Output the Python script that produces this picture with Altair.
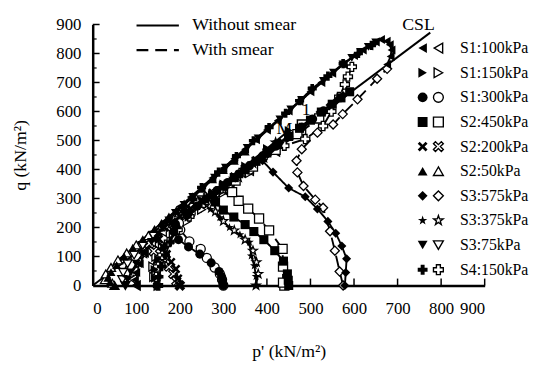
import altair as alt
import pandas as pd

SAMPLES = ["S1:100kPa", "S1:150kPa", "S1:300kPa", "S2:450kPa", "S2:200kPa",
           "S2:50kPa", "S3:575kPa", "S3:375kPa", "S3:75kPa", "S4:150kPa"]

X_PATH = "M-1,-0.6L-0.6,-1L0,-0.4L0.6,-1L1,-0.6L0.4,0L1,0.6L0.6,1L0,0.4L-0.6,1L-1,0.6L-0.4,0Z"
STAR_PATH = ("M0,-1L0.235,-0.324L0.951,-0.309L0.38,0.124L0.588,0.809L0,0.4"
             "L-0.588,0.809L-0.38,0.124L-0.951,-0.309L-0.235,-0.324Z")
SHAPES = ["triangle-left", "triangle-right", "circle", "square", X_PATH,
          "triangle-up", "diamond", STAR_PATH, "triangle-down", "cross"]

# (p', q) -- solid = without smear, dashed = with smear
S1_100_SOLID = [(100,0),(97,20),(100,45),(108,75),(120,110),(140,160),(165,218),(200,272),(225,305),(250,338),(275,371),(300,404),(325,437),(350,470),(375,503),(400,536),(425,569),(450,602),(475,635),(500,668),(525,700),(550,732),(575,763),(600,793),(620,812),(635,826),(650,840),(662,848),(675,842),(682,830),(686,812),(684,790),(676,762)]
S1_100_DASH = [(100,0),(92,22),(95,50),(103,80),(115,112),(135,150),(160,185),(195,222),(240,270),(300,330),(360,395),(420,462),(480,528)]
S1_150_SOLID = [(150,0),(143,25),(142,55),(150,90),(165,130),(190,180),(220,235),(255,290),(300,350),(350,412),(400,472),(450,534)]
S1_150_DASH = [(150,0),(140,30),(138,65),(145,100),(160,140),(185,180),(215,220),(250,262),(300,320),(360,388)]
S1_300_SOLID = [(300,0),(298,14),(296,30),(290,48),(272,78),(246,108),(220,133),(197,158),(186,185),(190,212),(220,250),(240,274),(260,298),(285,327),(310,355),(335,384),(360,413),(390,447),(420,480),(450,513),(480,546),(505,574),(530,602)]
S1_300_DASH = [(300,0),(297,20),(292,40),(280,62),(262,95),(248,126),(222,152),(201,192),(198,215),(225,248),(260,290),(310,345),(360,400)]
S2_450_SOLID = [(450,0),(449,18),(447,40),(438,84),(418,120),(393,158),(370,186),(350,210),(324,236),(300,260),(282,288),(275,312),(300,343),(325,372),(350,400),(375,428),(400,457),(425,486),(450,514),(475,542),(500,570),(525,598),(550,625),(570,647),(590,668)]
S2_450_DASH = [(440,0),(437,10),(437,65),(436,126),(405,190),(382,231),(357,265),(335,292),(320,322),(328,362),(368,410),(420,468),(470,522),(520,576)]
S2_200_SOLID = [(200,0),(196,24),(191,57),(180,81),(170,108),(160,135),(152,160),(150,180),(165,200),(182,219),(200,238),(225,265),(250,292),(275,320),(300,348),(325,376),(350,404),(375,432),(400,460)]
S2_200_DASH = [(200,0),(192,15),(185,40),(175,65),(160,95),(140,118),(130,145),(138,172),(170,203),(215,252),(265,306)]
S2_50_SOLID = [(50,0),(40,12),(35,26),(42,46),(55,70),(72,100),(92,130),(115,160),(142,195),(158,216),(175,238),(192,260),(210,283),(230,308),(250,333),(275,366),(300,398),(325,430),(350,462)]
S2_50_DASH = [(50,0),(45,8),(28,20),(30,40),(42,62),(58,88),(78,112),(100,140),(128,172),(160,208),(198,250)]
S3_575_SOLID = [(579,0),(581,45),(583,92),(572,136),(558,180),(540,221),(516,264),(488,306),(450,336),(414,391),(390,430),(410,468),(430,493),(450,518),(475,546),(500,573),(522,598),(545,622),(560,638),(575,655)]
S3_575_DASH = [(575,0),(567,48),(556,120),(545,187),(529,268),(511,296),(484,343),(470,390),(468,430),(480,470),(516,527),(552,555),(574,591),(608,642),(653,713),(676,747)]
S3_375_SOLID = [(375,0),(375,31),(371,68),(364,102),(360,149),(338,175),(314,200),(292,234),(270,262),(252,288),(262,308),(282,328),(300,348),(320,370),(340,393),(360,415),(380,438),(400,461),(420,484)]
S3_375_DASH = [(375,0),(380,40),(376,80),(368,120),(350,158),(325,190),(300,222),(282,255),(278,290),(300,328),(335,372),(368,421),(393,440),(420,493)]
S3_75_SOLID = [(75,0),(80,20),(88,45),(100,75),(115,110),(135,150),(160,198),(175,224),(190,250),(210,278),(230,305),(255,338),(280,372),(305,406),(330,440),(355,474),(380,507),(405,540),(430,573),(455,607),(480,640),(505,673),(530,705),(553,734),(575,762),(595,785),(615,805),(633,823),(650,838)]
S3_75_DASH = [(75,0),(68,20),(70,45),(80,75),(95,105),(115,138),(140,170),(170,205),(205,245),(250,295)]
S4_150_SOLID = [(150,0),(152,30),(158,65),(167,105),(178,150),(192,200),(210,255),(230,297),(250,338),(289,391),(330,445),(369,499),(405,545),(443,594),(475,637),(504,679),(540,722),(575,765),(610,800),(640,828)]
S4_150_DASH = [(150,0),(146,30),(150,65),(160,105),(175,150),(195,192),(222,238),(255,285),(295,335),(340,388),(390,440),(440,482),(488,505),(529,550),(548,600),(566,650),(579,693),(586,720),(595,754)]

SOLID_PATHS = [S1_100_SOLID, S1_150_SOLID, S1_300_SOLID, S2_450_SOLID, S2_200_SOLID,
               S2_50_SOLID, S3_575_SOLID, S3_375_SOLID, S3_75_SOLID, S4_150_SOLID]
DASH_PATHS = [S1_100_DASH, S1_150_DASH, S1_300_DASH, S2_450_DASH, S2_200_DASH,
              S2_50_DASH, S3_575_DASH, S3_375_DASH, S3_75_DASH, S4_150_DASH]

CSL_P = [0, 775]
CSL_Q = [0, 872]
TRI_P = [508, 470, 470]
TRI_Q = [571, 571, 529]
ANN_TEXT = ["CSL", "M", "1"]
ANN_P = [748, 440, 490]
ANN_Q = [897, 540, 606]

X_TICKS = [0, 100, 200, 300, 400, 500, 600, 700, 800, 900]
Y_TICKS = [0, 100, 200, 300, 400, 500, 600, 700, 800, 900]
Y_MINOR = [50, 150, 250, 350, 450, 550, 650, 750, 850]

FONT = "Liberation Serif"
KINDS = ["Without smear", "With smear"]

rows = []
for label, solid, dash in zip(SAMPLES, SOLID_PATHS, DASH_PATHS):
    for kind, path in ((KINDS[0], solid), (KINDS[1], dash)):
        for j, (p, q) in enumerate(path):
            rows.append({"sample": label, "kind": kind, "series": label + kind,
                         "ord": j, "p": p, "q": q})
df = pd.DataFrame(rows)

xscale = alt.Scale(domain=[0, 900], nice=False)
yscale = alt.Scale(domain=[0, 900], nice=False)
xaxis = alt.Axis(title="p' (kN/m²)", values=X_TICKS, grid=False, ticks=False, tickSize=0,
                 labelPadding=15, titlePadding=27, labelFontSize=17, titleFontSize=18,
                 titleFontWeight="normal")
yaxis = alt.Axis(title="q (kN/m²)", values=Y_TICKS, grid=False, ticks=False, tickSize=0,
                 labelPadding=12, titlePadding=27, labelFontSize=17, titleFontSize=18,
                 titleFontWeight="normal")

def X(field):
    return alt.X(field, scale=xscale, axis=xaxis)

def Y(field):
    return alt.Y(field, scale=yscale, axis=yaxis)

base = alt.Chart(df)

lines = base.mark_line(color="black", strokeWidth=1.9).encode(
    x=X("p:Q"), y=Y("q:Q"), detail="series:N", order="ord:Q",
    strokeDash=alt.StrokeDash("kind:N", scale=alt.Scale(domain=KINDS, range=[[1, 0], [12, 7]]),
        legend=alt.Legend(orient="none", legendX=43, legendY=-8, title=None,
                          symbolType="stroke", symbolSize=1849, symbolStrokeWidth=2.2,
                          symbolStrokeColor="black", labelFontSize=18, labelOffset=12,
                          rowPadding=7, clipHeight=18, padding=0)))

open_pts = base.transform_filter(alt.datum.kind == KINDS[1]).mark_point(
    filled=False, fill="white", stroke="black", strokeWidth=1.3, size=85, opacity=1,
    fillOpacity=1).encode(
    x=X("p:Q"), y=Y("q:Q"),
    shape=alt.Shape("sample:N", scale=alt.Scale(domain=SAMPLES, range=SHAPES),
        legend=alt.Legend(orient="none", legendX=343, legendY=16, title=None, symbolSize=100,
                          symbolStrokeWidth=1.4,
                          labelFontSize=16, labelOffset=14, rowPadding=9, padding=0,
                          clipHeight=16)))

filled_pts = base.transform_filter(alt.datum.kind == KINDS[0]).mark_point(
    filled=True, color="black", size=85, opacity=1).encode(
    x=X("p:Q"), y=Y("q:Q"),
    shape=alt.Shape("sample:N", scale=alt.Scale(domain=SAMPLES, range=SHAPES),
        legend=alt.Legend(orient="none", legendX=327, legendY=16, title=None, symbolSize=100,
                          symbolFillColor="black", symbolStrokeColor="black",
                          symbolOpacity=1, labelExpr="''", labelFontSize=16,
                          rowPadding=9, padding=0, clipHeight=16)))

csl = alt.Chart(pd.DataFrame({"p": CSL_P, "q": CSL_Q})).mark_line(
    color="black", strokeWidth=2).encode(x=X("p:Q"), y=Y("q:Q"))
tri = alt.Chart(pd.DataFrame({"p": TRI_P, "q": TRI_Q, "o": [0, 1, 2]})).mark_line(
    color="black", strokeWidth=1.5).encode(x=X("p:Q"), y=Y("q:Q"), order="o:Q")
ann = alt.Chart(pd.DataFrame({"p": ANN_P, "q": ANN_Q, "t": ANN_TEXT})).mark_text(
    font=FONT, fontSize=18, color="black", baseline="middle", align="center").encode(
    x=X("p:Q"), y=Y("q:Q"), text="t:N")

xt = alt.Chart(pd.DataFrame({"v": X_TICKS[1:]})).mark_rule(color="black", strokeWidth=1.5).encode(
    x=X("v:Q"), y=alt.value(265), y2=alt.value(258))
yt = alt.Chart(pd.DataFrame({"v": Y_TICKS[1:]})).mark_rule(color="black", strokeWidth=1.5).encode(
    y=Y("v:Q"), x=alt.value(0), x2=alt.value(7))
ytm = alt.Chart(pd.DataFrame({"v": Y_MINOR})).mark_rule(color="black", strokeWidth=1.2).encode(
    y=Y("v:Q"), x=alt.value(0), x2=alt.value(4))

chart = alt.layer(csl, tri, lines, open_pts, filled_pts, ann, xt, yt, ytm).resolve_scale(
    shape="independent").resolve_legend(shape="independent").properties(
    width=398, height=265,
    autosize=alt.AutoSizeParams(type="none"),
    padding={"left": 86, "top": 14, "right": 45, "bottom": 78},
).configure_view(stroke=None).configure_axis(
    domainColor="black", domainWidth=2.5, labelColor="black", titleColor="black",
    labelFont=FONT, titleFont=FONT,
).configure_legend(labelFont=FONT, labelColor="black")

chart.save("out.html", embed_options={"renderer": "svg", "actions": False})
